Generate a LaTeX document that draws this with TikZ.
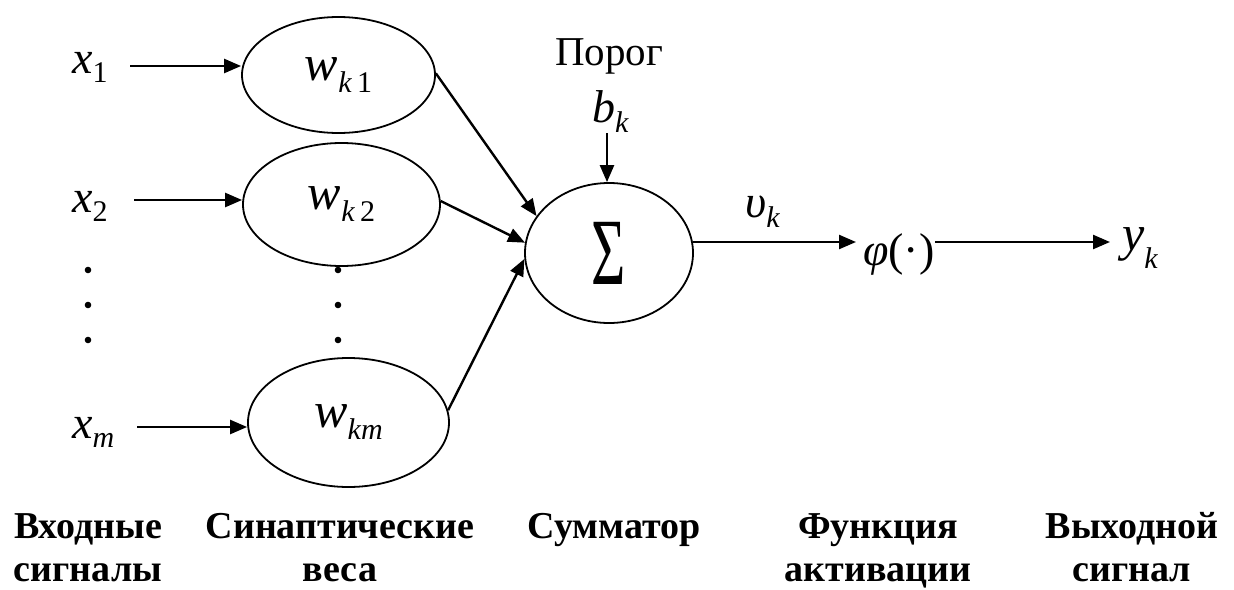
\documentclass[tikz,border=0pt]{standalone}
\usepackage{fontspec}
\usepackage{graphicx}
\setmainfont{Liberation Serif}
\usetikzlibrary{arrows.meta,shapes.geometric}
\newcommand{\sbx}[2]{\raisebox{-#1pt}{\fontsize{30}{30}\selectfont #2}}
\tikzset{
  wt/.style={draw, ellipse, line width=1.8pt, inner sep=0pt},
  sig/.style={-{Triangle[length=17pt,width=14pt]}, line width=2.4pt},
  lbl/.style={inner sep=0pt, anchor=base west, font=\fontsize{46}{50}\selectfont},
  capt/.style={align=center, inner sep=0pt, anchor=base, font=\fontsize{38}{43}\selectfont\bfseries},
  dotm/.style={fill=black}
}
\begin{document}
\begin{tikzpicture}[x=1pt,y=-1pt]
\useasboundingbox (0,0) rectangle (1234,589);
% weight ellipses
\node[wt, minimum width=193pt, minimum height=116pt] (w1) at (338.5,75)
  {\fontsize{50}{50}\selectfont\textit{w}\sbx{12}{\textit{k}\,1}};
\node[wt, minimum width=197pt, minimum height=123pt] (w2) at (341.5,204.5)
  {\fontsize{50}{50}\selectfont\textit{w}\sbx{12}{\textit{k}\,2}};
\node[wt, minimum width=201pt, minimum height=129pt] (wm) at (348.5,422.5)
  {\fontsize{50}{50}\selectfont\textit{w}\sbx{12}{\textit{km}}};
% summator
\node[wt, minimum width=168pt, minimum height=140pt] (S) at (609,253)
  {\fontsize{95}{95}\selectfont\scalebox{0.62}[1]{Σ}};
% inputs
\node[lbl] (x1) at (72,73) {\textit{x}\sbx{9}{1}};
\node[lbl] (x2) at (72,212) {\textit{x}\sbx{9}{2}};
\node[lbl] (xm) at (72,438) {\textit{x}\sbx{9}{\textit{m}}};
\coordinate (a1) at (130,66);
\coordinate (a2) at (134,200);
\coordinate (am) at (137,427);
\draw[sig] (a1) -- (a1 -| w1.west);
\draw[sig] (a2) -- (a2 -| w2.west);
\draw[sig] (am) -- (am -| wm.west);
% dots
\foreach \yy in {270,305,340}{
  \fill[dotm] (88,\yy) circle (3.3);
  \fill[dotm] (338,\yy) circle (3.3);
}
% to summator
\draw[sig] (w1.1) -- (S.153);
\draw[sig] (w2.2) -- (S.173);
\draw[sig] (wm.7) -- (S.184);
% threshold
\node[inner sep=0pt, anchor=base west, font=\fontsize{41}{44}\selectfont] (thr) at (555,65) {Порог};
\node[lbl] (bk) at (592,122) {\textit{b}\sbx{10}{\textit{k}}};
\coordinate (btop) at (607,133);
\draw[sig] (btop) -- (btop |- S.north);
% output chain
\node[lbl] (vk) at (745,217) {\textit{υ}\sbx{10}{\textit{k}}};
\node[lbl] (phi) at (863,265) {\textit{φ}(·)};
\node[lbl, font=\fontsize{50}{50}\selectfont] (yk) at (1122,250) {\textit{y}\sbx{18}{\textit{k}}};
\coordinate (o1) at (693,242);
\coordinate (o2) at (856,242);
\coordinate (o3) at (935,242);
\coordinate (o4) at (1110,242);
\draw[sig] (o1) -- (o2);
\draw[sig] (o3) -- (o4);
% captions (base = last line's baseline)
\node[capt] (c1) at (88,581) {Входные\\сигналы};
\node[capt] (c2) at (340,581) {Синаптические\\веса};
\node[capt] (c3) at (614,538) {Сумматор};
\node[capt] (c4) at (878,581) {Функция\\активации};
\node[capt] (c5) at (1132,581) {Выходной\\сигнал};
\end{tikzpicture}
\end{document}
